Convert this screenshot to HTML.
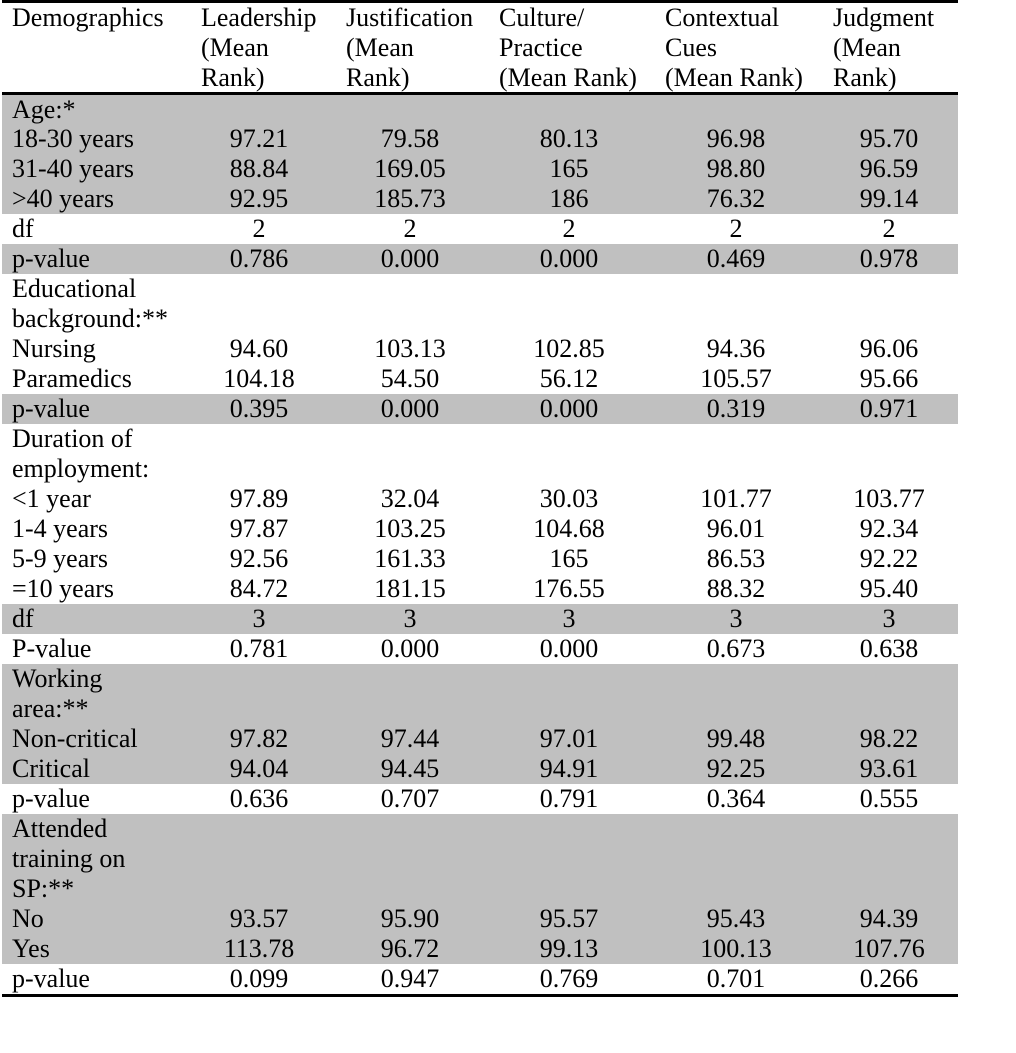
<!DOCTYPE html>
<html><head><style>
body{margin:0;width:1016px;height:1053px;background:#fff;position:relative;overflow:hidden;font-family:"Liberation Serif","Times New Roman","DejaVu Serif",serif;font-size:26px;color:#000}
.r{position:absolute;left:2px;width:956px;height:30px;line-height:30px}
.g{background:#c0c0c0}
.r span{position:absolute;top:0;white-space:nowrap}
.l{left:10px}
.c1{left:197px;width:120px;text-align:center}
.c2{left:348px;width:120px;text-align:center}
.c3{left:507px;width:120px;text-align:center}
.c4{left:674px;width:120px;text-align:center}
.c5{left:827px;width:120px;text-align:center}
.h{position:absolute;top:3px;line-height:30px;white-space:nowrap}
.line{position:absolute;left:2px;width:956px;background:#000}
</style></head><body>
<div class="line" style="top:0;height:3px"></div>
<div class="h" style="left:12px">Demographics</div>
<div class="h" style="left:201px">Leadership<br>(Mean<br>Rank)</div>
<div class="h" style="left:346px">Justification<br>(Mean<br>Rank)</div>
<div class="h" style="left:499px">Culture/<br>Practice<br>(Mean Rank)</div>
<div class="h" style="left:665px">Contextual<br>Cues<br>(Mean Rank)</div>
<div class="h" style="left:833px">Judgment<br>(Mean<br>Rank)</div>
<div class="line" style="top:92px;height:3px"></div>

<div class="r g" style="top:95px"><span class="l">Age:*</span></div>
<div class="r g" style="top:124px"><span class="l">18-30 years</span><span class="c1">97.21</span><span class="c2">79.58</span><span class="c3">80.13</span><span class="c4">96.98</span><span class="c5">95.70</span></div>
<div class="r g" style="top:154px"><span class="l">31-40 years</span><span class="c1">88.84</span><span class="c2">169.05</span><span class="c3">165</span><span class="c4">98.80</span><span class="c5">96.59</span></div>
<div class="r g" style="top:184px"><span class="l">&gt;40 years</span><span class="c1">92.95</span><span class="c2">185.73</span><span class="c3">186</span><span class="c4">76.32</span><span class="c5">99.14</span></div>
<div class="r" style="top:214px"><span class="l">df</span><span class="c1">2</span><span class="c2">2</span><span class="c3">2</span><span class="c4">2</span><span class="c5">2</span></div>
<div class="r g" style="top:244px"><span class="l">p-value</span><span class="c1">0.786</span><span class="c2">0.000</span><span class="c3">0.000</span><span class="c4">0.469</span><span class="c5">0.978</span></div>
<div class="r" style="top:274px"><span class="l">Educational</span></div>
<div class="r" style="top:304px"><span class="l">background:**</span></div>
<div class="r" style="top:334px"><span class="l">Nursing</span><span class="c1">94.60</span><span class="c2">103.13</span><span class="c3">102.85</span><span class="c4">94.36</span><span class="c5">96.06</span></div>
<div class="r" style="top:364px"><span class="l">Paramedics</span><span class="c1">104.18</span><span class="c2">54.50</span><span class="c3">56.12</span><span class="c4">105.57</span><span class="c5">95.66</span></div>
<div class="r g" style="top:394px"><span class="l">p-value</span><span class="c1">0.395</span><span class="c2">0.000</span><span class="c3">0.000</span><span class="c4">0.319</span><span class="c5">0.971</span></div>
<div class="r" style="top:424px"><span class="l">Duration of</span></div>
<div class="r" style="top:454px"><span class="l">employment:</span></div>
<div class="r" style="top:484px"><span class="l">&lt;1 year</span><span class="c1">97.89</span><span class="c2">32.04</span><span class="c3">30.03</span><span class="c4">101.77</span><span class="c5">103.77</span></div>
<div class="r" style="top:514px"><span class="l">1-4 years</span><span class="c1">97.87</span><span class="c2">103.25</span><span class="c3">104.68</span><span class="c4">96.01</span><span class="c5">92.34</span></div>
<div class="r" style="top:544px"><span class="l">5-9 years</span><span class="c1">92.56</span><span class="c2">161.33</span><span class="c3">165</span><span class="c4">86.53</span><span class="c5">92.22</span></div>
<div class="r" style="top:574px"><span class="l">=10 years</span><span class="c1">84.72</span><span class="c2">181.15</span><span class="c3">176.55</span><span class="c4">88.32</span><span class="c5">95.40</span></div>
<div class="r g" style="top:604px"><span class="l">df</span><span class="c1">3</span><span class="c2">3</span><span class="c3">3</span><span class="c4">3</span><span class="c5">3</span></div>
<div class="r" style="top:634px"><span class="l">P-value</span><span class="c1">0.781</span><span class="c2">0.000</span><span class="c3">0.000</span><span class="c4">0.673</span><span class="c5">0.638</span></div>
<div class="r g" style="top:664px"><span class="l">Working</span></div>
<div class="r g" style="top:694px"><span class="l">area:**</span></div>
<div class="r g" style="top:724px"><span class="l">Non-critical</span><span class="c1">97.82</span><span class="c2">97.44</span><span class="c3">97.01</span><span class="c4">99.48</span><span class="c5">98.22</span></div>
<div class="r g" style="top:754px"><span class="l">Critical</span><span class="c1">94.04</span><span class="c2">94.45</span><span class="c3">94.91</span><span class="c4">92.25</span><span class="c5">93.61</span></div>
<div class="r" style="top:784px"><span class="l">p-value</span><span class="c1">0.636</span><span class="c2">0.707</span><span class="c3">0.791</span><span class="c4">0.364</span><span class="c5">0.555</span></div>
<div class="r g" style="top:814px"><span class="l">Attended</span></div>
<div class="r g" style="top:844px"><span class="l">training on</span></div>
<div class="r g" style="top:874px"><span class="l">SP:**</span></div>
<div class="r g" style="top:904px"><span class="l">No</span><span class="c1">93.57</span><span class="c2">95.90</span><span class="c3">95.57</span><span class="c4">95.43</span><span class="c5">94.39</span></div>
<div class="r g" style="top:934px"><span class="l">Yes</span><span class="c1">113.78</span><span class="c2">96.72</span><span class="c3">99.13</span><span class="c4">100.13</span><span class="c5">107.76</span></div>
<div class="r" style="top:964px"><span class="l">p-value</span><span class="c1">0.099</span><span class="c2">0.947</span><span class="c3">0.769</span><span class="c4">0.701</span><span class="c5">0.266</span></div>
<div class="line" style="top:994px;height:3px"></div>
</body></html>
